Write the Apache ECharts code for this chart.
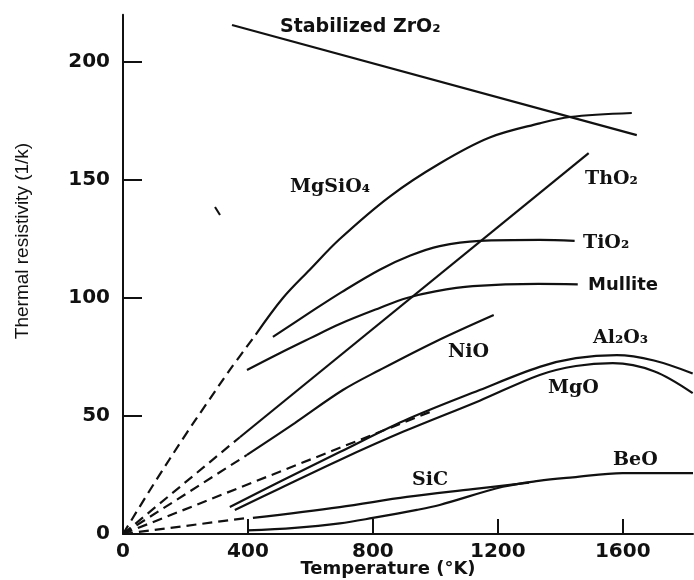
<!DOCTYPE html>
<html>
<head>
<meta charset="utf-8">
<script src="https://cdn.jsdelivr.net/npm/echarts@6/dist/echarts.min.js"></script>
<style>html,body{margin:0;padding:0;background:#fff}#c{width:694px;height:580px}</style>
</head>
<body>
<div id="c"></div>
<script>
// ---- data (temperature K, thermal resistivity 1/k) ----
const xTickLabels = [0, 400, 800, 1200, 1600];
const yTickLabels = [0, 50, 100, 150, 200];

const zro2 = [[349, 215.7], [1645, 169]];
const mgsio4Dash = [[0, 0], [100, 21.5], [200, 42], [269, 55.5], [342, 69.5], [425, 84.5]];
const mgsio4 = [[425, 84.5], [512, 100], [598, 112], [694, 125], [854, 143], [1014, 157], [1174, 168], [1334, 174], [1430, 176.7], [1629, 178.4]];
const tho2Dash = [[0, 0], [374, 41]];
const tho2 = [[374, 41], [1491, 161.4]];
const tio2 = [[480, 83.5], [600, 94], [700, 102.5], [822, 112], [920, 118], [1014, 122], [1142, 124.2], [1334, 124.6], [1446, 124.2]];
const mullite = [[397, 69.5], [500, 76.5], [600, 83], [694, 89], [822, 95.8], [909, 100], [1000, 102.8], [1120, 105], [1330, 106], [1456, 105.8]];
const nioDash = [[0, 0], [397, 33.5]];
const nio = [[397, 33.5], [550, 47], [704, 61], [822, 69.5], [1000, 81.5], [1187, 92.8]];
const longDash = [[0, 0], [998, 52.5]];
const al2o3 = [[342, 11.4], [500, 22], [694, 34.7], [900, 48], [1142, 61], [1334, 70.8], [1450, 74.5], [1581, 75.8], [1700, 73.5], [1824, 68]];
const mgo = [[358, 10.2], [500, 19.2], [694, 31.4], [900, 43.5], [1142, 56.5], [1334, 67.4], [1450, 71.2], [1568, 72.4], [1700, 69], [1824, 59.7]];
const sicDash = [[0, 0], [397, 6.8]];
const sic = [[416, 6.8], [694, 11.4], [909, 15.7], [1120, 19], [1300, 21.8]];
const beo = [[397, 1.5], [550, 2.6], [694, 4.5], [800, 6.8], [941, 10.2], [1014, 12.3], [1216, 20], [1330, 22.5], [1440, 24], [1600, 25.8], [1825, 25.8]];

// ---- chart ----
const INK = '#111';
function solid(data, smooth) {
  return { type: 'line', data: data, smooth: smooth ? 0.35 : false, showSymbol: false, symbol: 'none',
    lineStyle: { color: INK, width: 2.2, type: 'solid' }, silent: true };
}
function dashed(data, smooth) {
  return { type: 'line', data: data, smooth: smooth ? 0.35 : false, showSymbol: false, symbol: 'none',
    lineStyle: { color: INK, width: 2.2, type: [10, 6] }, silent: true };
}
const serif = 'bold 19px "DejaVu Serif", serif';
const sans = 'bold 19px "DejaVu Sans", sans-serif';
function lbl(text, x, y, font) {
  return { type: 'text', x: x, y: y, silent: true,
    style: { text: text, font: font, fill: INK, textAlign: 'left', textVerticalAlign: 'middle', align: 'left', verticalAlign: 'middle' } };
}

const chart = echarts.init(document.getElementById('c'), null, { renderer: 'canvas' });
chart.setOption({
  animation: false,
  backgroundColor: '#fff',
  grid: { left: 123, right: 1, top: 14.8, bottom: 46, containLabel: false, outerBoundsMode: 'none' },
  xAxis: {
    type: 'value', min: 0, max: 1825, interval: 400,
    axisLine: { show: true, onZero: false, lineStyle: { color: INK, width: 2 } },
    axisTick: { show: true, inside: true, length: 15, customValues: xTickLabels, lineStyle: { color: INK, width: 2 } },
    splitLine: { show: false },
    axisLabel: { show: true, margin: 8, color: INK, fontFamily: 'DejaVu Sans', fontWeight: 'bold', fontSize: 20,
      customValues: xTickLabels, formatter: function (v) { return String(v); } }
  },
  yAxis: {
    type: 'value', min: 0, max: 220, interval: 50,
    axisLine: { show: true, onZero: false, lineStyle: { color: INK, width: 2 } },
    axisTick: { show: true, inside: true, length: 19, customValues: yTickLabels, lineStyle: { color: INK, width: 2 } },
    splitLine: { show: false },
    axisLabel: { show: true, margin: 13, color: INK, fontFamily: 'DejaVu Sans', fontWeight: 'bold', fontSize: 20,
      customValues: yTickLabels, formatter: function (v) { return String(v); } }
  },
  series: [
    solid(zro2, false),
    dashed(mgsio4Dash, true), solid(mgsio4, true),
    dashed(tho2Dash, false), solid(tho2, false),
    solid(tio2, true),
    solid(mullite, true),
    dashed(nioDash, false), solid(nio, true),
    dashed(longDash, false),
    solid(al2o3, true), solid(mgo, true),
    dashed(sicDash, false), solid(sic, true),
    solid(beo, true)
  ],
  graphic: [
    lbl('Stabilized ZrO\u2082', 280, 27, sans),
    lbl('MgSiO\u2084', 290, 187, serif),
    lbl('ThO\u2082', 585, 179, serif),
    lbl('TiO\u2082', 583, 243, serif),
    lbl('Mullite', 588, 285, 'bold 18px "DejaVu Sans", sans-serif'),
    lbl('NiO', 448, 352, serif),
    lbl('Al\u2082O\u2083', 593, 338, serif),
    lbl('MgO', 548, 388, serif),
    lbl('SiC', 412, 480, serif),
    lbl('BeO', 613, 460, serif),
    { type: 'text', x: 388, y: 569, silent: true,
      style: { text: 'Temperature (°K)', font: 'bold 18px "DejaVu Sans", sans-serif', fill: INK,
        textAlign: 'center', textVerticalAlign: 'middle', align: 'center', verticalAlign: 'middle' } },
    { type: 'text', x: 23, y: 241, rotation: Math.PI / 2, silent: true,
      style: { text: 'Thermal resistivity (1/k)', font: '19px "Liberation Sans", sans-serif', fill: INK,
        textAlign: 'center', textVerticalAlign: 'middle', align: 'center', verticalAlign: 'middle' } },
    { type: 'line', silent: true, shape: { x1: 215, y1: 207, x2: 220, y2: 215 }, style: { stroke: INK, lineWidth: 2 } }
  ]
});
</script>
</body>
</html>
